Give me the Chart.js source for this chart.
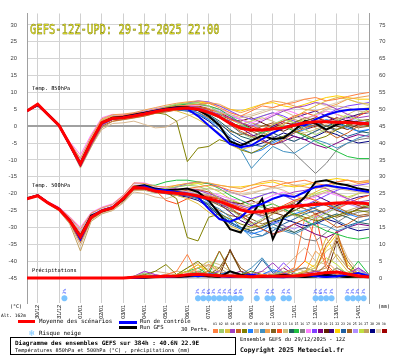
<!DOCTYPE html>
<html><head><meta charset="utf-8">
<script src="https://cdn.jsdelivr.net/npm/chart.js@4/dist/chart.umd.min.js"></script>
<style>
html,body{margin:0;padding:0;background:#fff;width:395px;height:355px;overflow:hidden}
#wrap{position:relative;width:395px;height:355px}
canvas{position:absolute;left:0;top:0}
.t{position:absolute;font-family:"DejaVu Sans Mono",monospace;color:#000;white-space:nowrap;line-height:1}
.bar{position:absolute;height:3px}
#title{position:absolute;left:30px;top:20px;font-family:"DejaVu Sans Mono",monospace;font-size:10.5px;color:#fafa30;-webkit-text-stroke:0.35px #6a6a00;transform:scaleY(1.35);transform-origin:left top;white-space:nowrap}
#sq{position:absolute;left:213px;top:323px;width:180px;height:14px}
</style></head><body>
<div id="wrap">
<canvas id="c" width="395" height="355"></canvas>
<div id="title">GEFS-12Z-UPD: 29-12-2025 22:00</div>
<div class="t" style="left:32px;top:86px;font-size:5.3px">Temp. 850hPa</div>
<div class="t" style="left:32px;top:183px;font-size:5.3px">Temp. 500hPa</div>
<div class="t" style="left:32px;top:268px;font-size:5.3px">Précipitations</div>
<div class="t" style="left:10px;top:304px;font-size:5px">(°C)</div>
<div class="t" style="left:1px;top:314px;font-size:4.6px">Alt. 162m</div>
<div class="t" style="left:378px;top:304px;font-size:5px">(mm)</div>
<div class="bar" style="left:18px;top:320px;width:17px;background:#ff0000"></div>
<div class="t" style="left:39px;top:319px;font-size:5.8px">Moyenne des scénarios</div>
<div class="bar" style="left:119px;top:321px;width:18px;background:#0000ff"></div>
<div class="t" style="left:140px;top:319px;font-size:5.6px">Run de contrôle</div>
<div class="bar" style="left:119px;top:326px;width:18px;background:#000"></div>
<div class="t" style="left:140px;top:325px;font-size:5.6px">Run GFS</div>
<div class="t" style="left:29px;top:329px;font-size:9px;color:#80c8ff">❄</div>
<div class="t" style="left:39px;top:331px;font-size:5.8px">Risque neige</div>
<div class="t" style="left:181px;top:327px;font-size:5.4px">30 Perts.</div>
<div id="sq"></div>
<div style="position:absolute;left:10px;top:337px;width:224px;height:16px;border:1px solid #000"></div>
<div class="t" style="left:15px;top:340px;font-size:6px;font-weight:bold">Diagramme des ensembles GEFS sur 384h : 40.6N 22.9E</div>
<div class="t" style="left:15px;top:348px;font-size:5.2px">Températures 850hPa et 500hPa (°C) , précipitations (mm)</div>
<div class="t" style="left:240px;top:337px;font-size:5.3px">Ensemble GEFS du 29/12/2025 - 12Z</div>
<div class="t" style="left:240px;top:347px;font-size:6.4px;font-weight:bold">Copyright 2025 Meteociel.fr</div>
</div>
<script>
// ---------------- DATA ----------------
const HOURS = [0,12,24,36,48,60,72,84,96,108,120,132,144,156,168,180,192,204,216,228,240,252,264,276,288,300,312,324,336,348,360,372,384];
const DATE_TICK_HOURS = [12,36,60,84,108,132,156,180,204,228,252,276,300,324,348,372];
const DATE_LABELS = ['30/12','31/12','01/01','02/01','03/01','04/01','05/01','06/01','07/01','08/01','09/01','10/01','11/01','12/01','13/01','14/01'];
const TEMP_TICKS = [-45,-40,-35,-30,-25,-20,-15,-10,-5,0,5,10,15,20,25,30];
const PCP_TICKS = [0,5,10,15,20,25,30,35,40,45,50,55,60,65,70,75];
const MEMBER_IDS = ['01','02','03','04','05','06','07','08','09','10','11','12','13','14','15','16','17','18','19','20','21','22','23','24','25','26','27','28','29','30'];

const MEAN_850 = [4.5,6.5,3.3,0.2,-5.4,-11.2,-4.6,1.0,2.3,2.5,3.0,3.6,4.3,4.9,5.2,5.4,5.0,4.1,2.8,0.8,-0.6,-1.1,-1.1,-0.8,-0.5,0.3,1.0,1.3,1.3,1.2,1.1,0.9,0.7];
const CTRL_850 = [4.5,6.3,3.4,0.1,-5.6,-11.5,-4.8,0.8,2.2,2.6,3.2,3.8,4.5,5.0,5.3,5.1,3.0,0.2,-2.5,-5.3,-6.2,-5.7,-3.8,-2.0,-0.5,0.5,0.3,2.0,3.3,4.3,4.8,5.0,5.1];
const GFS_850 = [4.6,6.2,3.5,0.3,-5.5,-11.0,-4.5,1.0,2.5,2.8,3.4,4.0,4.6,5.2,5.6,5.6,4.8,3.0,0.2,-4.5,-5.8,-4.3,-2.8,-3.8,-3.5,-1.2,1.5,0.8,-1.0,0.5,1.5,1.0,0.5];
const MEAN_500 = [-21.5,-20.6,-22.8,-24.6,-28.0,-32.8,-27.0,-25.1,-24.2,-21.5,-18.2,-18.3,-19.2,-19.6,-19.9,-20.1,-20.7,-21.5,-22.3,-23.5,-24.8,-25.5,-25.3,-24.8,-24.0,-23.7,-23.4,-23.2,-23.0,-22.8,-22.7,-22.8,-23.0];
const CTRL_500 = [-21.5,-20.5,-22.8,-24.5,-27.8,-33.5,-26.8,-25.0,-24.0,-21.5,-18.3,-17.8,-18.8,-19.0,-19.5,-20.0,-21.0,-24.5,-27.5,-28.3,-27.0,-24.0,-23.0,-21.5,-20.5,-21.0,-19.5,-18.0,-17.5,-18.0,-18.5,-19.0,-19.5];
const GFS_500 = [-21.4,-20.5,-22.8,-24.5,-28.0,-32.5,-26.5,-25.2,-24.2,-21.8,-18.0,-17.5,-18.5,-19.0,-18.8,-18.5,-19.5,-22.0,-26.0,-30.5,-31.5,-26.5,-21.5,-33.5,-27.0,-24.0,-21.0,-16.5,-16.0,-17.0,-17.5,-18.5,-19.0];
const MEAN_PCP = [0,0,0,0,0,0,0,0,0,0,0.2,0.4,0.4,0.5,0.6,1.0,1.1,0.9,0.7,0.6,0.5,0.4,0.5,0.5,0.5,0.6,0.8,1.2,1.6,1.8,1.2,0.6,0.3];
const CTRL_PCP = [0,0,0,0,0,0,0,0,0,0,0,0.2,0.5,0.3,0.5,1.0,0.5,1.0,0.5,0.3,0.5,1.0,0.5,0.3,0.2,0.5,1.0,0.5,0.3,0.5,1.0,1.5,0.5];
const GFS_PCP = [0,0,0,0,0,0,0,0,0,0,0,0.1,0.3,0.5,0.3,0.5,1.0,0.5,0.3,2.0,1.0,0.5,0.3,0.5,1.0,0.5,0.3,0.5,1.0,0.5,0.3,0.5,0.3];

const MEMBERS_850 = [
[4.6,6.6,3.5,0.4,-5.0,-10.8,-4.0,1.5,2.8,3.2,3.8,4.2,5.0,5.5,6.0,6.2,6.5,6.8,5.5,4.0,3.0,4.5,6.0,5.5,6.5,7.0,8.0,8.5,7.5,8.0,8.8,9.5,10.0],
[4.5,6.4,3.2,0.1,-5.6,-11.5,-5.0,0.5,2.0,2.2,2.8,3.5,4.5,5.8,6.5,6.8,7.0,6.0,4.0,1.0,-2.0,-3.5,-2.0,0.5,2.0,1.0,-1.0,-2.5,-1.0,1.5,3.0,2.0,1.5],
[4.4,6.5,3.4,0.3,-5.2,-10.5,-3.8,1.8,3.0,2.8,3.4,4.0,4.6,5.0,4.5,3.5,2.0,0.0,-2.0,-5.5,-7.0,-6.0,-3.0,-1.0,0.5,2.5,4.5,6.0,7.5,8.5,8.0,7.0,6.5],
[4.5,6.6,3.3,0.2,-5.5,-11.8,-5.5,0.2,2.0,2.6,3.2,3.8,4.4,5.2,5.8,6.0,5.5,4.5,3.5,2.5,1.0,0.0,1.5,3.0,4.5,5.5,6.0,7.0,6.5,5.0,3.5,2.5,3.0],
[4.5,6.5,3.2,0.0,-5.8,-12.0,-5.8,0.0,1.5,2.0,2.5,3.0,3.8,4.2,4.8,5.5,5.8,5.0,3.0,0.5,-1.5,-3.0,-4.5,-5.5,-4.0,-2.0,-0.5,0.5,-1.5,-3.5,-2.0,0.0,1.0],
[4.6,6.4,3.3,0.2,-5.3,-11.0,-4.2,1.2,2.5,2.7,3.2,3.8,4.0,3.5,1.5,-10.5,-6.5,-6.0,-4.0,-5.0,-7.0,-8.0,-6.5,-4.0,-3.0,-1.5,-2.5,-4.0,-3.0,-1.0,0.5,1.0,0.0],
[4.5,6.5,3.4,0.3,-5.0,-10.5,-4.0,1.5,2.6,2.9,3.3,3.9,4.8,5.3,5.5,5.0,4.0,2.0,-1.0,-4.0,-6.5,-8.0,-7.0,-5.0,-3.5,-2.0,-1.0,0.5,2.0,1.0,-0.5,-1.5,-1.0],
[4.4,6.3,3.1,0.0,-6.0,-12.2,-6.0,-1.0,0.8,1.0,1.5,0.5,-0.5,-0.3,1.5,3.0,4.0,4.5,4.0,3.5,2.5,3.0,4.0,5.0,4.5,3.0,2.0,3.5,5.0,6.0,5.5,4.5,4.0],
[4.5,6.5,3.3,0.2,-5.4,-11.2,-4.5,1.0,2.4,2.6,3.1,3.7,4.2,4.8,5.0,4.5,3.5,2.0,0.0,-3.0,-7.0,-12.5,-9.0,-6.0,-7.5,-8.0,-6.0,-4.0,-5.0,-6.5,-5.0,-3.5,-2.5],
[4.6,6.7,3.6,0.5,-4.8,-9.5,-3.0,2.2,3.4,3.6,4.0,4.8,5.5,6.2,6.8,7.2,7.5,7.0,6.5,5.0,4.0,5.0,6.5,7.5,7.0,6.0,5.0,4.5,5.5,6.5,8.0,8.5,9.0],
[4.5,6.4,3.2,0.1,-5.6,-11.6,-5.2,0.6,2.1,2.4,2.9,3.4,4.0,4.6,5.1,5.5,5.2,4.0,2.5,1.0,0.0,-1.5,-3.0,-2.0,-0.5,1.0,2.5,1.5,0.0,-1.0,0.0,1.5,2.0],
[4.5,6.6,3.4,0.3,-5.1,-10.8,-4.1,1.4,2.7,3.0,3.5,4.0,4.6,5.1,5.6,5.8,5.5,5.0,4.0,2.0,1.0,0.0,-1.0,0.5,1.5,3.0,4.0,3.0,1.5,0.5,1.5,3.0,4.5],
[4.4,6.4,3.2,0.1,-5.5,-11.4,-4.8,0.7,2.2,2.4,2.9,3.5,4.1,4.7,5.0,5.3,5.6,5.2,4.0,2.0,0.5,1.5,2.5,1.5,0.0,-1.0,-2.0,-1.0,0.5,2.0,3.5,5.0,5.5],
[4.5,6.5,3.3,0.2,-5.4,-11.3,-4.7,0.9,2.2,2.5,3.0,3.5,4.2,4.8,5.3,5.6,5.0,3.5,1.5,-1.0,-3.0,-4.0,-3.0,-2.0,-3.5,-4.5,-3.0,-1.5,0.0,1.0,0.0,-1.5,-2.0],
[4.5,6.5,3.4,0.3,-5.2,-10.9,-4.3,1.3,2.6,2.8,3.3,3.9,4.7,5.6,6.2,6.6,6.5,6.0,5.0,3.0,1.0,-1.0,-2.0,-1.0,0.0,-1.5,-3.0,-4.5,-6.0,-7.5,-9.0,-9.6,-9.6],
[4.5,6.5,3.3,0.2,-5.4,-11.0,-4.4,1.1,2.4,2.6,3.1,3.6,4.2,4.8,5.2,5.3,4.8,3.8,2.5,1.0,0.0,-1.0,-2.0,-3.0,-5.0,-8.0,-11.0,-14.0,-11.0,-7.0,-5.0,-4.0,-3.5],
[4.6,6.6,3.5,0.4,-4.6,-8.5,-2.5,2.5,3.5,3.4,3.6,4.2,4.8,5.4,5.8,6.0,6.3,6.0,5.0,3.5,2.0,1.0,2.0,3.5,5.0,4.0,2.5,3.0,4.5,3.5,2.0,1.0,0.5],
[4.5,6.5,3.3,0.2,-5.3,-11.1,-4.4,1.1,2.4,2.7,3.2,3.8,4.5,5.1,5.6,6.8,7.5,7.2,6.0,4.5,3.0,2.0,3.0,4.0,3.0,1.5,0.5,2.0,3.5,5.0,6.0,6.5,7.0],
[4.5,6.4,3.2,0.1,-5.5,-11.4,-4.9,0.7,2.1,2.3,2.8,3.4,4.0,4.6,5.0,5.2,5.0,4.2,3.0,1.5,-0.5,-2.5,-4.0,-5.5,-4.5,-3.0,-4.0,-5.5,-6.5,-5.0,-3.5,-2.5,-3.0],
[4.5,6.5,3.3,0.2,-5.4,-11.2,-4.6,1.0,2.3,2.5,3.0,3.6,4.3,4.9,5.2,5.4,5.0,4.2,3.5,2.0,1.5,2.5,1.0,-0.5,-1.5,0.0,1.5,2.5,1.5,0.0,-1.0,0.5,1.5],
[4.5,6.6,3.4,0.3,-5.3,-11.0,-4.4,1.1,2.4,2.6,3.1,3.7,4.3,5.0,5.4,5.6,5.2,4.5,3.0,0.5,-2.0,-3.0,-2.0,0.0,1.5,2.5,3.5,4.5,3.0,1.5,2.5,3.5,4.0],
[4.5,6.5,3.3,0.2,-5.4,-11.3,-4.8,0.8,2.2,2.4,2.9,3.5,4.2,5.5,6.5,7.0,7.2,6.8,6.0,5.0,4.5,5.5,6.5,7.0,6.0,5.5,6.5,7.5,8.5,9.0,8.5,8.0,8.0],
[4.5,6.4,3.3,0.2,-5.4,-11.4,-4.7,0.9,2.2,2.4,2.9,3.5,4.1,4.6,4.9,5.0,4.6,3.2,1.0,-2.0,-4.0,-5.5,-6.0,-4.5,-3.0,-1.5,0.0,1.0,0.0,-1.5,-3.0,-2.0,-1.0],
[4.5,6.5,3.3,0.2,-5.4,-11.2,-4.6,1.0,2.3,2.5,3.0,3.6,4.3,4.9,5.2,5.0,4.0,2.5,0.5,-1.5,-2.5,-1.5,0.0,1.0,0.0,-1.0,0.5,2.0,3.0,2.0,0.5,-0.5,0.0],
[4.6,6.7,3.5,0.5,-4.9,-9.8,-3.2,2.0,3.2,3.4,3.9,4.5,5.2,5.8,6.0,5.8,5.5,5.0,4.5,3.0,2.0,0.5,-1.0,-2.0,-3.5,-4.5,-3.0,-1.5,0.0,1.5,2.5,1.5,1.0],
[4.5,6.5,3.3,0.2,-5.4,-11.2,-4.6,1.0,2.3,2.5,3.0,3.6,4.3,5.0,6.0,6.6,7.0,6.0,4.0,2.0,0.5,1.5,3.0,4.0,2.5,1.0,2.0,3.5,4.5,3.5,2.5,3.5,5.0],
[4.4,6.3,3.1,0.0,-5.8,-12.4,-6.2,-0.5,1.4,1.9,2.4,3.0,3.8,4.4,4.8,5.0,5.3,5.0,4.2,3.0,2.0,1.0,0.0,-1.0,0.5,2.0,1.0,-0.5,-2.0,-1.0,0.5,1.5,2.0],
[4.5,6.5,3.3,0.2,-5.4,-11.6,-5.0,0.5,2.0,2.3,2.8,3.4,4.0,4.5,4.8,4.5,3.5,1.5,-1.0,-3.5,-5.0,-6.0,-5.0,-3.5,-2.0,-3.0,-4.0,-3.0,-1.5,-2.5,-4.0,-5.0,-4.5],
[4.5,6.5,3.3,0.2,-5.4,-11.2,-4.5,1.0,2.4,2.7,3.2,3.9,4.6,5.2,5.7,6.0,6.2,5.8,5.0,4.0,3.0,3.5,4.5,5.5,6.5,7.5,8.0,7.0,6.0,7.0,8.0,7.0,6.0],
[4.5,6.5,3.3,0.2,-5.4,-11.0,-4.3,1.2,2.5,2.7,3.2,3.8,4.4,5.0,5.5,5.8,6.0,5.2,4.0,2.5,1.0,-0.5,-1.5,-0.5,1.0,0.5,-1.0,0.0,1.5,2.5,1.5,0.5,1.0]
];

const MEMBERS_500 = [
[-21.4,-20.5,-22.6,-24.3,-27.5,-31.5,-26.5,-24.8,-23.8,-21.0,-17.5,-17.8,-18.5,-19.0,-19.0,-18.5,-18.0,-17.5,-18.0,-19.0,-19.5,-18.5,-17.5,-18.0,-17.0,-16.5,-16.0,-17.0,-17.5,-16.5,-16.0,-17.0,-16.5],
[-21.5,-20.6,-22.9,-24.7,-28.3,-33.5,-27.3,-25.3,-24.4,-21.8,-18.5,-18.0,-18.8,-18.5,-18.0,-17.5,-17.8,-19.0,-21.5,-24.5,-27.0,-29.0,-27.5,-25.0,-23.5,-24.5,-26.0,-27.5,-26.0,-24.0,-22.5,-23.0,-24.0],
[-21.5,-20.6,-22.7,-24.5,-27.8,-32.2,-26.8,-24.9,-23.9,-21.2,-17.8,-18.1,-19.0,-19.5,-20.5,-21.5,-23.0,-25.5,-27.5,-29.5,-31.0,-30.0,-28.0,-26.0,-24.0,-22.5,-21.0,-19.5,-18.0,-17.0,-17.5,-18.5,-19.0],
[-21.5,-20.6,-22.8,-24.6,-28.1,-33.0,-27.1,-25.2,-24.2,-21.6,-18.3,-18.3,-19.0,-19.2,-18.8,-18.5,-19.0,-20.0,-21.0,-22.5,-23.5,-24.5,-23.0,-21.5,-20.5,-19.5,-19.0,-18.0,-18.5,-20.0,-21.5,-22.5,-22.0],
[-21.5,-20.7,-22.9,-24.8,-28.5,-34.5,-27.6,-25.5,-24.6,-22.0,-18.8,-18.6,-19.4,-19.8,-19.5,-19.0,-18.8,-19.5,-21.5,-24.0,-26.5,-28.5,-30.5,-32.0,-31.0,-29.0,-27.5,-26.0,-28.0,-30.0,-29.0,-27.0,-26.5],
[-21.4,-20.6,-22.8,-24.6,-27.9,-32.5,-26.9,-25.0,-24.0,-21.3,-18.0,-18.2,-19.0,-19.5,-21.5,-33.0,-34.0,-27.0,-26.0,-27.5,-29.0,-30.0,-29.5,-28.0,-27.0,-26.0,-27.0,-28.0,-27.5,-26.5,-25.5,-25.0,-25.5],
[-21.5,-20.6,-22.7,-24.5,-27.6,-32.0,-26.6,-24.8,-23.9,-21.2,-17.8,-18.0,-18.9,-19.3,-19.5,-19.8,-20.5,-22.5,-25.5,-28.0,-30.5,-32.0,-31.0,-29.0,-27.5,-26.0,-25.0,-24.0,-23.0,-24.5,-26.0,-27.0,-26.5],
[-21.6,-20.8,-23.0,-25.0,-28.8,-35.5,-27.8,-25.8,-25.0,-22.8,-19.5,-20.0,-21.0,-21.5,-20.5,-19.5,-19.0,-18.5,-19.0,-19.5,-20.5,-20.0,-19.0,-18.0,-19.0,-20.5,-21.5,-20.5,-19.5,-18.5,-19.0,-19.5,-20.0],
[-21.5,-20.6,-22.8,-24.6,-28.0,-32.8,-27.0,-25.1,-24.2,-21.5,-18.2,-18.3,-19.2,-19.5,-19.8,-20.5,-21.5,-23.0,-24.5,-27.0,-30.0,-33.0,-32.5,-30.0,-31.0,-32.0,-30.5,-28.5,-29.5,-31.0,-30.0,-28.5,-27.5],
[-21.4,-20.4,-22.5,-24.2,-27.0,-30.5,-25.8,-24.2,-23.2,-20.5,-16.8,-17.0,-17.8,-18.0,-17.5,-17.0,-16.5,-16.8,-17.5,-18.0,-18.5,-17.5,-16.5,-16.0,-16.5,-17.5,-18.0,-18.5,-17.5,-16.5,-16.0,-16.5,-16.0],
[-21.5,-20.6,-22.9,-24.7,-28.2,-33.3,-27.2,-25.3,-24.3,-21.7,-18.4,-18.5,-19.4,-19.8,-20.0,-20.2,-20.8,-22.0,-23.5,-25.0,-26.0,-27.5,-29.0,-28.0,-26.5,-25.0,-23.5,-24.5,-26.0,-27.0,-26.0,-24.5,-24.0],
[-21.5,-20.5,-22.7,-24.5,-27.7,-32.3,-26.8,-24.9,-23.9,-21.3,-17.9,-18.1,-19.0,-22.0,-23.0,-21.5,-20.5,-20.8,-21.5,-23.0,-24.0,-25.0,-26.0,-25.0,-23.5,-22.0,-21.0,-22.0,-23.5,-24.5,-23.0,-21.5,-20.5],
[-21.5,-20.6,-22.8,-24.6,-28.1,-33.1,-27.1,-25.2,-24.2,-21.6,-18.3,-18.4,-19.3,-19.7,-20.0,-20.0,-19.8,-20.5,-21.5,-23.0,-24.0,-23.0,-22.0,-23.0,-25.0,-26.5,-27.5,-26.5,-25.0,-23.0,-21.5,-20.0,-19.5],
[-21.5,-20.6,-22.8,-24.6,-28.0,-32.9,-27.0,-25.1,-24.2,-21.5,-18.2,-18.3,-19.2,-19.6,-19.8,-20.0,-21.0,-23.5,-26.0,-28.5,-30.0,-31.0,-30.0,-29.0,-30.5,-31.5,-30.0,-28.5,-27.0,-26.0,-27.0,-28.5,-29.0],
[-21.5,-20.6,-22.7,-24.5,-27.8,-32.4,-26.9,-25.0,-24.0,-21.3,-17.8,-17.5,-17.5,-16.5,-16.0,-16.0,-16.5,-17.0,-18.5,-20.5,-22.0,-23.5,-24.0,-23.0,-24.5,-26.0,-28.0,-29.5,-31.0,-32.0,-33.0,-33.5,-33.0],
[-21.5,-20.6,-22.8,-24.6,-28.0,-32.6,-26.9,-25.0,-24.1,-21.4,-18.1,-18.2,-19.1,-19.5,-19.9,-20.2,-21.0,-22.0,-23.0,-24.0,-25.0,-25.5,-26.5,-27.5,-29.5,-31.5,-33.5,-34.0,-31.5,-28.5,-26.5,-25.5,-25.0],
[-21.4,-20.4,-22.4,-24.0,-26.8,-30.0,-25.6,-24.0,-23.0,-20.4,-16.8,-16.8,-17.8,-18.3,-18.5,-18.8,-19.0,-19.5,-20.5,-21.5,-22.0,-23.0,-22.0,-20.5,-19.5,-20.5,-22.0,-21.0,-19.5,-20.5,-21.5,-22.5,-23.0],
[-21.5,-20.6,-22.8,-24.6,-27.9,-32.7,-26.9,-25.0,-24.1,-21.4,-18.1,-18.2,-18.8,-18.8,-18.0,-17.0,-16.5,-17.0,-18.0,-19.5,-20.5,-21.5,-20.5,-19.5,-20.5,-22.0,-23.5,-22.0,-20.5,-19.0,-18.0,-17.5,-17.0],
[-21.5,-20.6,-22.9,-24.7,-28.2,-33.4,-27.3,-25.3,-24.4,-21.8,-18.5,-18.6,-19.5,-19.9,-20.3,-20.6,-21.0,-22.0,-23.0,-24.5,-26.5,-28.5,-30.5,-32.0,-30.5,-29.0,-30.5,-32.0,-33.0,-31.5,-30.0,-29.0,-29.5],
[-21.5,-20.6,-22.8,-24.6,-28.0,-32.8,-27.0,-25.1,-24.2,-21.5,-18.2,-18.3,-19.2,-19.6,-19.9,-20.1,-20.5,-21.0,-21.5,-22.5,-23.0,-22.0,-23.5,-25.5,-26.5,-25.0,-23.5,-22.5,-23.5,-25.0,-26.0,-24.5,-23.5],
[-21.5,-20.5,-22.7,-24.5,-27.8,-32.5,-26.9,-25.0,-24.0,-21.4,-18.1,-18.2,-19.1,-19.5,-19.7,-19.9,-20.5,-21.5,-23.0,-25.5,-28.0,-29.5,-28.0,-26.0,-24.0,-22.5,-21.5,-20.5,-22.0,-23.5,-22.0,-21.0,-20.5],
[-21.5,-20.6,-22.8,-24.6,-28.1,-33.0,-27.2,-25.3,-24.3,-21.6,-18.3,-18.4,-19.0,-18.5,-17.5,-17.0,-16.8,-17.0,-17.5,-18.0,-18.0,-17.5,-17.0,-16.5,-17.5,-18.0,-17.5,-16.5,-16.0,-15.5,-16.0,-16.5,-16.5],
[-21.5,-20.6,-22.8,-24.7,-28.1,-33.2,-27.1,-25.2,-24.3,-21.6,-18.3,-18.4,-19.3,-19.8,-20.2,-20.6,-21.5,-23.5,-26.5,-29.0,-30.5,-31.5,-32.5,-31.0,-29.0,-27.5,-26.0,-25.0,-26.0,-28.0,-29.5,-28.5,-27.5],
[-21.5,-20.6,-22.8,-24.6,-28.0,-32.8,-27.0,-25.1,-24.2,-21.5,-18.2,-18.3,-19.2,-19.6,-20.0,-20.5,-21.5,-23.0,-25.0,-26.5,-27.0,-26.0,-25.0,-24.0,-25.0,-26.5,-25.5,-24.0,-23.0,-24.0,-25.5,-26.5,-26.0],
[-21.4,-20.4,-22.5,-24.2,-27.2,-31.0,-26.0,-24.3,-23.3,-20.6,-17.0,-17.3,-18.3,-18.8,-19.0,-19.5,-20.0,-20.5,-21.5,-22.5,-24.0,-25.5,-27.0,-28.5,-29.5,-30.5,-29.0,-27.0,-25.5,-24.0,-23.0,-24.0,-24.5],
[-21.5,-20.6,-22.8,-24.6,-28.0,-32.8,-27.0,-25.1,-24.2,-21.5,-18.2,-18.3,-19.0,-18.8,-18.0,-17.5,-17.0,-18.0,-19.5,-21.5,-23.0,-22.0,-20.5,-19.5,-20.5,-22.0,-21.0,-20.0,-19.0,-20.0,-21.0,-20.0,-19.0],
[-21.6,-20.8,-23.1,-25.1,-29.0,-37.0,-28.2,-26.0,-25.0,-22.5,-19.0,-19.0,-19.8,-20.0,-20.2,-20.3,-20.5,-21.0,-21.5,-22.0,-23.0,-24.0,-25.0,-26.0,-25.0,-23.5,-24.5,-26.0,-27.5,-26.5,-25.0,-24.0,-23.5],
[-21.5,-20.6,-22.9,-24.7,-28.3,-33.8,-27.4,-25.4,-24.4,-21.8,-18.5,-18.6,-19.5,-20.0,-20.5,-21.0,-22.0,-24.0,-26.5,-28.5,-30.0,-31.0,-30.0,-28.5,-27.5,-28.5,-29.5,-29.0,-27.5,-28.5,-30.0,-31.0,-30.5],
[-21.5,-20.6,-22.8,-24.6,-27.9,-32.6,-26.9,-25.0,-24.0,-21.3,-18.0,-18.0,-18.8,-19.0,-18.8,-18.5,-18.3,-18.5,-19.0,-19.5,-20.0,-19.5,-19.0,-18.5,-18.0,-17.5,-17.0,-17.5,-18.5,-18.0,-17.0,-17.5,-18.0],
[-21.5,-20.6,-22.8,-24.6,-28.0,-32.7,-26.9,-25.0,-24.1,-21.4,-18.1,-18.2,-19.1,-19.5,-19.7,-19.8,-20.0,-20.5,-21.5,-23.0,-24.5,-25.5,-26.5,-25.5,-24.0,-23.0,-24.5,-26.0,-25.0,-23.5,-22.5,-23.5,-24.5]
];

const MEMBERS_PCP = [
[0,0,0,0,0,0,0,0,0,0,0.2,0.5,0.3,1.0,2.0,7.0,1.0,0.5,0.3,0.5,0.2,0.5,1.0,0.5,1.5,3.0,18.0,12.0,3.0,1.0,0.5,1.0,0.5],
[0,0,0,0,0.2,0,0,0,0,0,0.5,1.5,0.5,0.3,0.5,1.0,2.0,1.0,0.5,1.0,0.5,0.2,0.5,1.0,2.0,1.5,0.5,0.3,1.0,3.0,1.5,0.5,0.2],
[0,0,0,0,0,0,0,0,0,0,0.3,0.5,0.2,0.5,1.0,2.0,4.0,1.0,0.5,0.3,0.2,0.5,1.0,0.5,0.5,1.0,2.0,4.0,12.0,6.0,2.0,1.0,0.5],
[0,0,0,0,0,0,0,0,0,0,0.5,2.0,1.0,0.3,0.2,0.5,1.0,0.5,0.3,1.0,0.5,1.0,2.0,4.5,1.5,0.5,1.0,2.0,1.5,0.5,1.0,3.0,1.0],
[0,0,0,0,0,0,0,0,0,0,0.2,0.3,0.5,0.5,0.3,0.5,1.0,2.0,8.0,2.0,0.5,0.3,0.5,1.0,0.5,1.0,1.5,2.0,10.0,14.0,3.0,1.0,0.5],
[0,0,0,0,0,0,0,0,0,0,0.3,1.0,2.0,4.0,1.0,3.0,5.0,2.0,1.0,0.5,1.0,2.0,1.0,0.5,0.3,0.5,1.0,0.5,0.3,0.5,0.2,0.3,0.2],
[0,0,0,0,0,0,0,0,0,0,0,0.2,0.3,0.5,0.5,1.0,0.5,1.5,1.0,2.0,1.0,0.5,1.0,2.5,1.5,0.5,0.3,0.5,1.0,0.5,0.5,1.5,1.0],
[0,0,0,0,0,0,0,0,0,0,0.5,1.0,2.0,1.5,1.0,3.0,4.5,3.5,2.0,1.0,0.5,1.0,2.0,1.0,3.0,6.0,9.0,5.0,4.0,13.0,6.0,2.0,1.0],
[0,0,0,0,0,0,0,0,0,0,0,0,0.2,0.5,0.5,1.0,0.5,1.0,0.5,0.3,1.0,3.0,6.0,2.0,1.0,0.5,1.0,0.5,0.5,1.0,0.5,0.3,0.2],
[0,0,0,0,0,0,0,0,0,0,0.2,0.3,0.5,0.3,0.5,1.0,3.0,4.0,2.0,0.5,0.3,0.5,1.0,0.5,0.3,0.5,1.5,8.0,5.0,2.0,1.0,0.5,0.3],
[0,0,0,0,0,0,0,0,0,0,0,0.3,0.5,0.5,0.3,1.0,2.0,1.0,3.0,8.0,2.0,0.5,0.3,0.5,1.0,0.5,0.3,1.0,2.0,1.0,0.5,0.3,0.2],
[0,0,0,0,0,0,0,0,0,0,0,0.2,0.3,0.5,0.3,0.5,1.0,0.5,0.3,0.5,0.3,0.5,1.0,0.5,1.0,2.0,5.0,19.0,4.0,1.0,0.5,0.3,0.2],
[0,0,0,0,0,0,0,0,0,0,0.5,1.0,0.5,1.0,2.0,1.5,3.0,5.0,4.0,2.0,1.0,0.5,1.0,0.5,0.5,1.0,2.0,3.0,8.0,10.0,3.0,1.0,0.5],
[0,0,0,0,0,0,0,0,0,0,0,0.1,0.3,0.2,0.3,0.5,0.3,0.5,1.0,0.5,0.3,0.5,1.0,0.5,0.3,0.5,1.0,0.5,0.3,0.5,0.3,0.5,0.3],
[0,0,0,0,0,0,0,0,0,0,0.2,0.5,0.3,0.5,1.0,2.0,3.0,1.0,8.0,2.0,0.5,0.3,0.5,0.5,0.3,1.0,0.5,0.3,1.0,2.0,1.0,5.0,1.0],
[0,0,0,0,0,0,0,0,0,0,0,0.2,0.2,0.3,0.5,0.3,0.5,1.0,0.5,1.0,0.5,1.0,0.5,0.3,1.5,2.5,3.0,2.0,1.0,0.5,0.3,0.5,0.3],
[0,0,0,0,0,0,0,0,0,0,0.5,2.0,1.0,0.5,0.3,0.5,1.0,0.5,0.3,0.5,1.0,0.5,0.3,0.5,1.0,0.5,1.0,2.0,1.0,0.5,0.3,0.5,0.2],
[0,0,0,0,0,0,0,0,0,0,0,0.3,0.5,1.0,0.5,0.3,0.5,1.0,2.0,1.0,0.5,1.0,0.5,1.0,4.5,1.5,0.5,1.0,0.5,0.3,1.0,3.0,0.5],
[0,0,0,0,0,0,0,0,0,0,0,0.2,0.3,0.5,0.5,1.0,2.0,1.0,0.5,1.0,2.0,1.0,0.5,1.0,3.0,1.0,0.5,0.3,1.0,3.0,1.0,0.5,0.3],
[0,0,0,0,0,0,0,0,0,0,0,0.3,0.5,0.3,0.5,1.0,0.5,0.3,0.5,8.5,2.0,0.5,0.3,0.5,1.0,0.5,0.3,0.5,1.0,11.0,3.0,0.5,0.3],
[0,0,0,0,0,0,0,0,0,0,0,0.1,0.2,0.3,0.5,0.3,0.5,1.0,0.5,0.3,1.0,0.5,0.3,0.5,1.0,0.5,0.3,0.5,0.3,1.0,0.5,0.3,0.2],
[0,0,0,0,0,0,0,0,0,0,0.3,0.5,1.0,0.5,1.0,2.0,4.0,2.0,1.0,0.5,0.3,0.5,1.0,0.5,1.0,2.0,5.0,3.0,9.0,13.0,4.0,1.0,0.5],
[0,0,0,0,0,0,0,0,0,0,0,0.2,0.3,0.5,0.3,0.5,1.0,0.5,1.0,2.0,0.5,1.0,5.5,1.5,0.5,0.3,0.5,1.0,0.5,0.3,1.0,0.5,0.3],
[0,0,0,0,0,0,0,0,0,0,0,0.3,0.5,0.3,0.5,1.0,0.5,1.0,2.0,8.0,3.0,1.0,0.5,0.3,0.5,1.0,2.0,1.0,4.0,12.0,5.0,1.0,0.5],
[0,0,0,0,0,0,0,0,0,0,0.3,1.5,0.5,0.3,0.5,1.0,0.5,0.3,1.0,0.5,0.3,0.5,1.0,2.0,1.0,0.5,0.3,0.5,1.0,0.5,0.3,2.5,0.5],
[0,0,0,0,0,0,0,0,0,0,0.2,0.5,0.3,1.0,0.5,1.0,3.0,5.0,2.0,1.0,0.5,0.3,0.5,1.0,0.5,1.0,2.0,3.0,6.0,4.0,1.0,0.5,0.3],
[0,0,0,0,0,0,0,0,0,0,0.3,0.5,0.3,0.5,1.0,2.0,1.5,4.0,3.0,1.0,0.5,1.0,0.5,0.3,1.0,2.0,3.0,2.0,3.0,7.0,3.0,1.0,0.5],
[0,0,0,0,0,0,0,0,0,0,0,0.2,0.3,0.2,0.3,0.5,1.0,0.5,0.3,1.0,0.5,0.3,0.5,1.0,0.5,0.3,0.5,0.3,1.0,0.5,0.3,1.5,0.5],
[0,0,0,0,0,0,0,0,0,0,0.5,1.0,0.5,0.3,0.5,1.0,2.0,3.0,1.5,0.5,0.3,0.5,1.0,0.5,1.5,3.0,2.0,1.0,0.5,2.0,1.0,0.5,0.3],
[0,0,0,0,0,0,0,0,0,0,0,0.2,0.3,0.5,0.3,0.5,1.0,0.5,0.3,0.5,0.3,0.5,1.0,0.5,0.3,0.5,1.0,0.5,1.0,2.0,0.5,0.3,0.2]
];

const SNOW_HOURS = [42,192,198,204,210,216,222,228,234,240,258,270,276,288,294,324,330,336,342,360,366,372,378];
const SNOW_PCT = [3,3,3,6,3,3,3,3,6,3,3,3,3,3,3,3,6,3,3,3,3,3,3];

// ---------------- STYLE ----------------
const MEMBER_COLORS = ['#ff8040','#9ccc70','#e0c040','#a040c0','#c86020','#808000','#2080ff','#d8b890','#4090c0','#f0a050',
'#806020','#ff5020','#d0c080','#206060','#20c040','#808080','#ff80ff','#8040ff','#800080','#602000',
'#400080','#ffd000','#2060a0','#a06020','#b090ff','#c0e040','#c0a060','#000080','#e0d0b0','#a00000'];
const SNOW_ROW = -51;
const Y_MIN = -52.4, Y_MAX = 33.4, PCP_OFFSET = 45;

// legend squares
const sq = document.getElementById('sq');
MEMBER_IDS.forEach((id, i) => {
  const n = document.createElement('div');
  n.className = 't';
  n.style.cssText = `left:${i*5.82}px;top:0px;font-size:3.3px;`;
  n.textContent = id;
  sq.appendChild(n);
  const b = document.createElement('div');
  b.style.cssText = `position:absolute;left:${i*5.82}px;top:6px;width:5px;height:4px;background:${MEMBER_COLORS[i]}`;
  sq.appendChild(b);
});

const pts = arr => arr.map((v, i) => ({x: HOURS[i], y: v}));
const datasets = [];
function line(data, color, width, axis, order){
  return {data: pts(data), borderColor: color, backgroundColor: color, borderWidth: width, pointRadius: 0, tension: 0, yAxisID: axis, order: order, fill:false};
}
MEMBERS_PCP.forEach((m,i)=>datasets.push(line(m, MEMBER_COLORS[i], 1, 'y2', 20)));
MEMBERS_500.forEach((m,i)=>datasets.push(line(m, MEMBER_COLORS[i], 1, 'y', 10)));
MEMBERS_850.forEach((m,i)=>datasets.push(line(m, MEMBER_COLORS[i], 1, 'y', 10)));
datasets.push(line(GFS_850, '#000000', 2, 'y', 4));
datasets.push(line(GFS_500, '#000000', 2, 'y', 4));
datasets.push(line(GFS_PCP, '#000000', 2, 'y2', 4));
datasets.push(line(CTRL_850, '#0000ff', 2, 'y', 3));
datasets.push(line(CTRL_500, '#0000ff', 2, 'y', 3));
datasets.push(line(CTRL_PCP, '#0000ff', 2, 'y2', 3));
datasets.push(line(MEAN_850, '#ff0000', 3, 'y', 1));
datasets.push(line(MEAN_500, '#ff0000', 3, 'y', 1));
datasets.push(line(MEAN_PCP, '#ff0000', 3, 'y2', 1));
const snowIndex = datasets.length;
datasets.push({data: SNOW_HOURS.map(h=>({x:h, y:SNOW_ROW})), showLine:false, pointStyle:'star', pointRadius:3, borderColor:'#7cc4ff', backgroundColor:'#7cc4ff', borderWidth:2, yAxisID:'y', order:0});

const snowLabels = {
  id:'snowLabels',
  afterDatasetsDraw(chart){
    const meta = chart.getDatasetMeta(snowIndex);
    const ctx = chart.ctx;
    ctx.save();
    ctx.fillStyle = '#3a50ff';
    ctx.font = '4.5px "DejaVu Sans Mono"';
    ctx.textAlign = 'left';
    ctx.textBaseline = 'middle';
    meta.data.forEach((el, i) => {
      ctx.save();
      ctx.translate(el.x, el.y - 4);
      ctx.rotate(-Math.PI/2);
      ctx.fillText(SNOW_PCT[i] + '%', 0, 0);
      ctx.restore();
    });
    ctx.restore();
  }
};

new Chart(document.getElementById('c'), {
  type: 'line',
  data: {datasets},
  plugins: [snowLabels],
  options: {
    responsive:false, animation:false, devicePixelRatio:1,
    layout:{padding:0},
    plugins:{legend:{display:false}, tooltip:{enabled:false}},
    scales:{
      x:{type:'linear', min:0, max:384, position:'bottom',
        afterBuildTicks: s => { s.ticks = DATE_TICK_HOURS.map(v=>({value:v})); },
        afterFit: s => { s.height = 52; },
        grid:{color:'#d0d0d0', lineWidth:1, drawTicks:false},
        border:{display:false},
        ticks:{autoSkip:false, minRotation:90, maxRotation:90, padding:2, color:'#000',
          font:{family:'Liberation Sans', size:5.5},
          callback: v => { const k = DATE_TICK_HOURS.indexOf(v); return k>=0 ? DATE_LABELS[k] : ''; }}
      },
      y:{type:'linear', position:'left', min:Y_MIN, max:Y_MAX,
        afterBuildTicks: s => { s.ticks = TEMP_TICKS.map(v=>({value:v})); },
        afterFit: s => { s.width = 27; },
        grid:{drawTicks:false, color: c => c.tick && c.tick.value===0 ? '#a0a0a0' : '#d4d4d4', lineWidth: c => c.tick && c.tick.value===0 ? 2 : 1},
        border:{display:true, color:'#a0a0a0', width:1},
        ticks:{padding:10, color:'#404040', font:{family:'Liberation Sans', size:5.8}}
      },
      y2:{type:'linear', position:'right', min:Y_MIN+PCP_OFFSET, max:Y_MAX+PCP_OFFSET,
        afterBuildTicks: s => { s.ticks = PCP_TICKS.map(v=>({value:v})); },
        afterFit: s => { s.width = 26; },
        grid:{display:false, drawTicks:false},
        border:{display:true, color:'#a0a0a0', width:1},
        ticks:{padding:10, color:'#404040', font:{family:'Liberation Sans', size:5.8}}
      }
    }
  }
});
</script>
</body></html>
